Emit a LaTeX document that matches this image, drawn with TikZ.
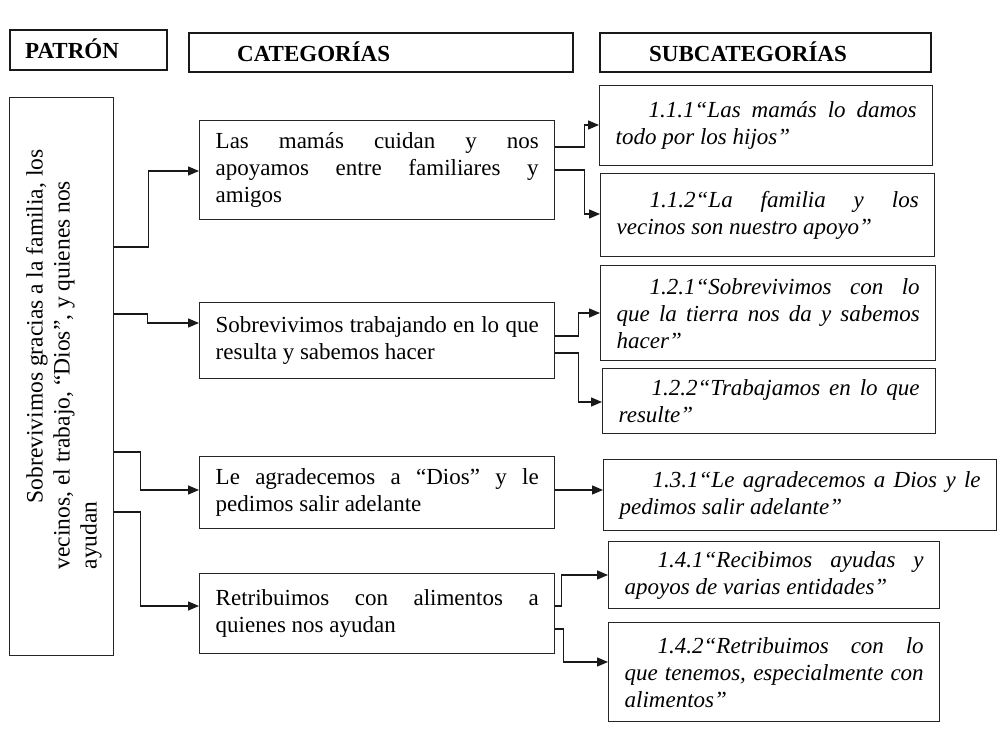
\documentclass[tikz,border=0pt]{standalone}
\usepackage{fontspec}
\setmainfont{Liberation Serif}
\usetikzlibrary{arrows.meta,calc}
\begin{document}
\begin{tikzpicture}[x=1pt,y=-1pt,
  frame/.style={draw=black!85, line width=1.4pt},
  hdrbox/.style={draw=black!90, line width=1.7pt, anchor=north west, inner sep=0pt},
  hdrtext/.style={anchor=west, inner sep=0pt, font=\fontsize{23}{27}\selectfont\bfseries},
  catbox/.style={frame, anchor=north west, inner xsep=16pt, inner ysep=0pt, align=justify, font=\fontsize{23}{27}\selectfont},
  subbox/.style={frame, anchor=north west, inner xsep=16pt, inner ysep=0pt, align=justify, font=\fontsize{23}{27}\selectfont\itshape},
  arr/.style={line width=1.3pt, draw=black!90, -{Triangle[length=11pt,width=9pt]}},
]
\fill[white] (0,0) rectangle (1004,733);
\useasboundingbox (0,0) rectangle (1004,733);

% headers
\node[hdrbox, minimum width=157pt, minimum height=40pt] (hpat) at (9,29) {};
\node[hdrtext] (hpatt) at ($(hpat.west)+(16,-1)$) {PATRÓN};
\node[hdrbox, minimum width=384pt, minimum height=39pt] (hcat) at (188,32) {};
\node[hdrtext] (hcatt) at ($(hcat.west)+(49,-1)$) {CATEGORÍAS};
\node[hdrbox, minimum width=331pt, minimum height=39pt] (hsub) at (599,32) {};
\node[hdrtext] (hsubt) at ($(hsub.west)+(50,-1)$) {SUBCATEGORÍAS};

% pattern box
\node[frame, anchor=north west, minimum width=104pt, minimum height=558pt, inner sep=0pt] (pat) at (9,97) {};
\node[rotate=90, anchor=west, align=left, inner sep=0pt, font=\fontsize{23.5}{27}\selectfont] (patt) at ($(pat.south west)+(55,-87)$)
  {\hspace*{66pt}Sobrevivimos gracias a la familia, los\\vecinos, el trabajo, “Dios”, y quienes nos\\ayudan};

% categories
\node[catbox, text width=323pt, minimum height=99pt] (c1) at (199,120)
  {Las mamás cuidan y nos\linebreak apoyamos entre familiares y\linebreak amigos};
\node[catbox, text width=323pt, minimum height=76pt] (c2) at (199,302)
  {Sobrevivimos trabajando en lo que\linebreak resulta y sabemos hacer};
\node[catbox, text width=323pt, minimum height=72pt] (c3) at (199,456)
  {Le agradecemos a “Dios” y le\linebreak pedimos salir adelante};
\node[catbox, text width=323pt, minimum height=80pt] (c4) at (199,573)
  {Retribuimos con alimentos a\linebreak quienes nos ayudan};

% subcategories
\node[subbox, text width=301pt, minimum height=80pt] (s111) at (599,85)
  {\hspace*{33pt}1.1.1“Las mamás lo damos\linebreak todo por los hijos”};
\node[subbox, text width=302pt, minimum height=83pt] (s112) at (600,173)
  {\hspace*{33pt}1.1.2“La familia y los\linebreak vecinos son nuestro apoyo”};
\node[subbox, text width=303pt, minimum height=95pt] (s121) at (600,265)
  {\hspace*{33pt}1.2.1“Sobrevivimos con lo\linebreak que la tierra nos da y sabemos\linebreak hacer”};
\node[subbox, text width=301pt, minimum height=65pt] (s122) at (602,368)
  {\hspace*{33pt}1.2.2“Trabajamos en lo que\linebreak resulte”};
\node[subbox, text width=361pt, minimum height=71pt] (s131) at (603,459)
  {\hspace*{33pt}1.3.1“Le agradecemos a Dios y le\linebreak pedimos salir adelante”};
\node[subbox, text width=299pt, minimum height=67pt] (s141) at (608,541)
  {\hspace*{33pt}1.4.1“Recibimos ayudas y\linebreak apoyos de varias entidades”};
\node[subbox, text width=299pt, minimum height=99pt] (s142) at (608,622)
  {\hspace*{33pt}1.4.2“Retribuimos con lo\linebreak que tenemos, especialmente con\linebreak alimentos”};

% connectors: pattern -> categories
\draw[arr] ($(pat.north east)+(0,150)$) -- ++(34,0) |- ($(c1.north west)+(0,51)$);
\draw[arr] ($(pat.north east)+(0,217)$) -- ++(33,0) |- ($(c2.north west)+(0,21)$);
\draw[arr] ($(pat.north east)+(0,355)$) -- ++(26,0) |- ($(c3.north west)+(0,34)$);
\draw[arr] ($(pat.north east)+(0,415)$) -- ++(26,0) |- ($(c4.north west)+(0,33)$);

% connectors: categories -> subcategories
\draw[arr] ($(c1.north east)+(0,27)$) -- ++(29,0) |- ($(s111.north west)+(0,40)$);
\draw[arr] ($(c1.north east)+(0,50)$) -- ++(29,0) |- ($(s112.north west)+(0,41)$);
\draw[arr] ($(c2.north east)+(0,34)$) -- ++(23,0) |- ($(s121.north west)+(0,48)$);
\draw[arr] ($(c2.north east)+(0,51)$) -- ++(23,0) |- ($(s122.north west)+(0,34)$);
\draw[arr] ($(c3.north east)+(0,34)$) -- ($(s131.north west)+(0,31)$);
\draw[arr] ($(c4.north east)+(0,33)$) -- ++(6,0) |- ($(s141.north west)+(0,34)$);
\draw[arr] ($(c4.north east)+(0,56)$) -- ++(8,0) |- ($(s142.north west)+(0,40)$);
\end{tikzpicture}
\end{document}
